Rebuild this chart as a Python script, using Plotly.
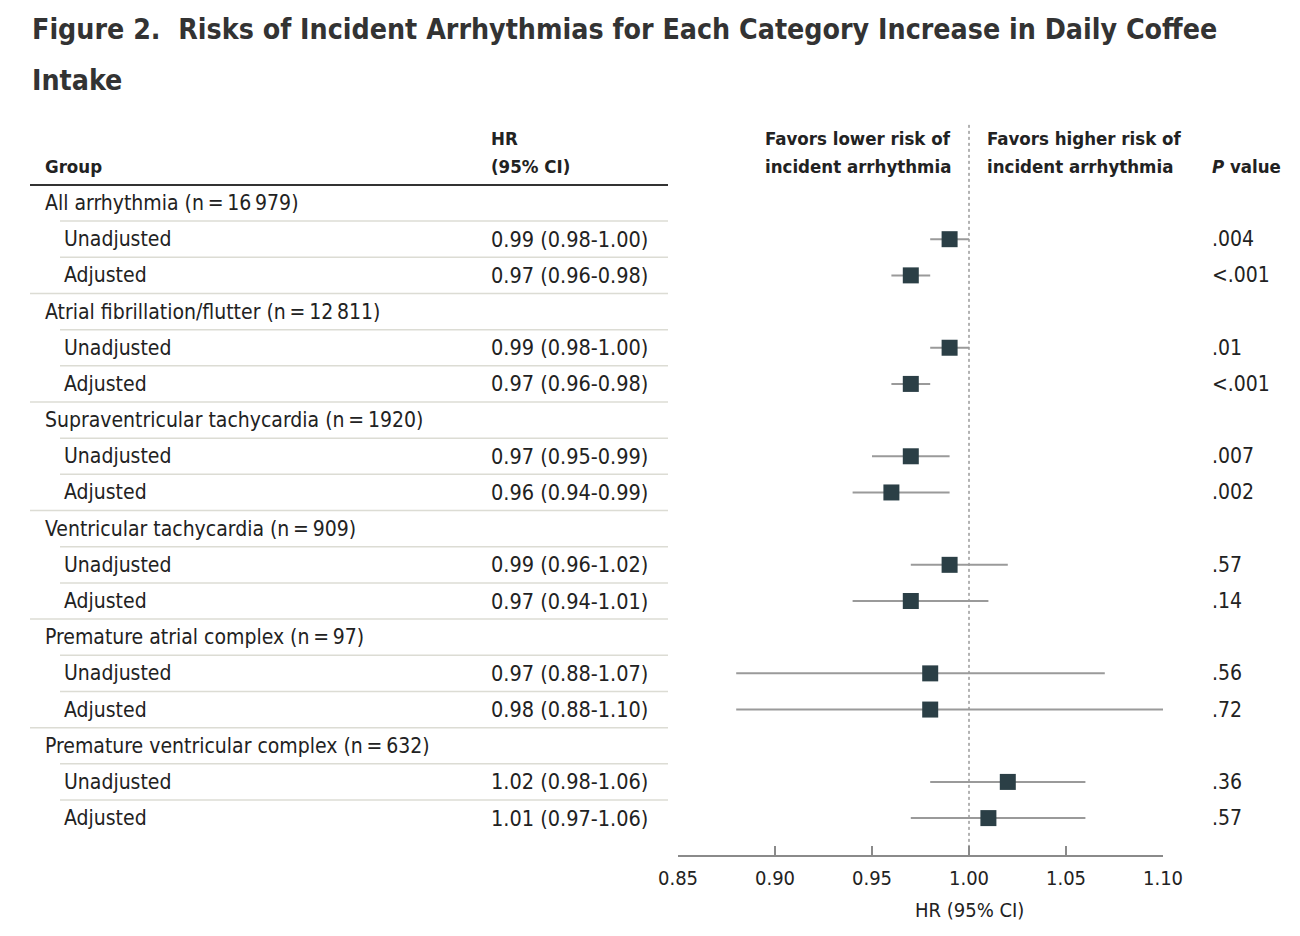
import plotly.graph_objects as go

# table rows (top to bottom)
labels = [
    "All arrhythmia (n\u2009=\u200916\u2009979)", "Unadjusted", "Adjusted",
    "Atrial fibrillation/flutter (n\u2009=\u200912\u2009811)", "Unadjusted", "Adjusted",
    "Supraventricular tachycardia (n\u2009=\u20091920)", "Unadjusted", "Adjusted",
    "Ventricular tachycardia (n\u2009=\u2009909)", "Unadjusted", "Adjusted",
    "Premature atrial complex (n\u2009=\u200997)", "Unadjusted", "Adjusted",
    "Premature ventricular complex (n\u2009=\u2009632)", "Unadjusted", "Adjusted",
]
hr_text = [
    "", "0.99 (0.98-1.00)", "0.97 (0.96-0.98)",
    "", "0.99 (0.98-1.00)", "0.97 (0.96-0.98)",
    "", "0.97 (0.95-0.99)", "0.96 (0.94-0.99)",
    "", "0.99 (0.96-1.02)", "0.97 (0.94-1.01)",
    "", "0.97 (0.88-1.07)", "0.98 (0.88-1.10)",
    "", "1.02 (0.98-1.06)", "1.01 (0.97-1.06)",
]
p_text = [
    "", ".004", "<.001",
    "", ".01", "<.001",
    "", ".007", ".002",
    "", ".57", ".14",
    "", ".56", ".72",
    "", ".36", ".57",
]
# plotted estimates
hr = [None, 0.99, 0.97, None, 0.99, 0.97, None, 0.97, 0.96,
      None, 0.99, 0.97, None, 0.98, 0.98, None, 1.02, 1.01]
lo = [None, 0.98, 0.96, None, 0.98, 0.96, None, 0.95, 0.94,
      None, 0.97, 0.94, None, 0.88, 0.88, None, 0.98, 0.97]
hi = [None, 1.00, 0.98, None, 1.00, 0.98, None, 0.99, 0.99,
      None, 1.02, 1.01, None, 1.07, 1.10, None, 1.06, 1.06]

tick_vals = [0.85, 0.90, 0.95, 1.00, 1.05, 1.10]

FONT = "DejaVu Sans Condensed, DejaVu Sans, sans-serif"
TXT = "#222222"
W, H = 1300, 936

rows = list(range(len(labels)))
pts = [(r, h, l, u) for r, h, l, u in zip(rows, hr, lo, hi) if h is not None]

fig = go.Figure()
fig.add_trace(go.Scatter(
    x=[p[1] for p in pts], y=[p[0] for p in pts], mode="markers",
    marker=dict(symbol="square", size=16, color="#2b3f46"),
    error_x=dict(type="data", symmetric=False,
                 array=[p[3] - p[1] for p in pts],
                 arrayminus=[p[1] - p[2] for p in pts],
                 color="#9a9a9a", thickness=2, width=0),
    showlegend=False, hoverinfo="skip", cliponaxis=False,
))

ann = []
def txt(x, y, s, anchor="left", size=21, bold=False):
    if bold:
        s = "<b>" + s + "</b>"
    ann.append(dict(x=x, y=y, xref="paper", yref="y", text=s, showarrow=False,
                    xanchor=anchor, yanchor="middle",
                    font=dict(family=FONT, size=size, color=TXT)))

# headers
HS = 18.5
txt(43 / W, -1, "Group", bold=True, size=HS)
txt(489 / W, -1.77, "HR", bold=True, size=HS)
txt(489 / W, -1, "(95% CI)", bold=True, size=HS)
txt(953 / W, -1.77, "Favors lower risk of", anchor="right", bold=True, size=HS)
txt(953 / W, -1, "incident arrhythmia", anchor="right", bold=True, size=HS)
txt(985 / W, -1.77, "Favors higher risk of", bold=True, size=HS)
txt(985 / W, -1, "incident arrhythmia", bold=True, size=HS)
txt(1210 / W, -1, "<i>P</i> value", bold=True, size=HS)

shapes = []
for r in rows:
    sub = hr[r] is not None
    txt((62 if sub else 43) / W, r, labels[r])
    if hr_text[r]:
        txt(489 / W, r, hr_text[r], size=21.5)
    if p_text[r]:
        txt(1210 / W, r, p_text[r])
    if r < len(rows) - 1:
        full = labels[r] == "Adjusted"
        shapes.append(dict(type="line", xref="paper", yref="y",
                           x0=(30 if full else 60) / W, x1=668 / W,
                           y0=r + 0.5, y1=r + 0.5,
                           line=dict(color="#dcdcd4", width=1.5)))

# header rule
shapes.append(dict(type="line", xref="paper", yref="y", x0=30 / W, x1=668 / W,
                   y0=-0.5, y1=-0.5, line=dict(color="#333333", width=2)))
# reference line at HR = 1
shapes.append(dict(type="line", xref="x", yref="y", x0=1.0, x1=1.0,
                   y0=-2.16, y1=18.02, layer="below",
                   line=dict(color="#666666", width=1, dash="dot")))

# title
for yy, t in [(30, "Figure 2.  Risks of Incident Arrhythmias for Each Category Increase in Daily Coffee"),
              (80, "Intake")]:
    ann.append(dict(x=30 / W, y=1 - yy / H, xref="paper", yref="paper",
                    text="<b>" + t + "</b>", showarrow=False,
                    xanchor="left", yanchor="middle",
                    font=dict(family=FONT, size=28.3, color="#333333")))
# x axis title
ann.append(dict(x=1.0, y=1 - 910 / H, xref="x", yref="paper", text="HR (95% CI)",
                showarrow=False, xanchor="center", yanchor="middle",
                font=dict(family=FONT, size=20, color=TXT)))

fig.update_layout(
    width=W, height=H,
    margin=dict(l=0, r=0, t=0, b=0, autoexpand=False),
    paper_bgcolor="white", plot_bgcolor="white",
    xaxis=dict(domain=[678 / W, 1163 / W], range=[0.85, 1.10], automargin=False,
               tickvals=tick_vals, ticktext=["%.2f" % v for v in tick_vals],
               showgrid=False, zeroline=False, showline=True,
               linecolor="#8a8a8a", linewidth=2,
               ticks="inside", ticklen=9, tickwidth=2, tickcolor="#8a8a8a",
               ticklabelstandoff=4,
               tickfont=dict(family=FONT, size=20, color=TXT)),
    yaxis=dict(domain=[(H - 855) / H, 1], range=[18.02, -5.611], automargin=False,
               visible=False, showgrid=False, zeroline=False),
    annotations=ann, shapes=shapes,
)

fig.write_html("out.html", config={"displayModeBar": False},
               post_script="document.body.style.margin='0';")
